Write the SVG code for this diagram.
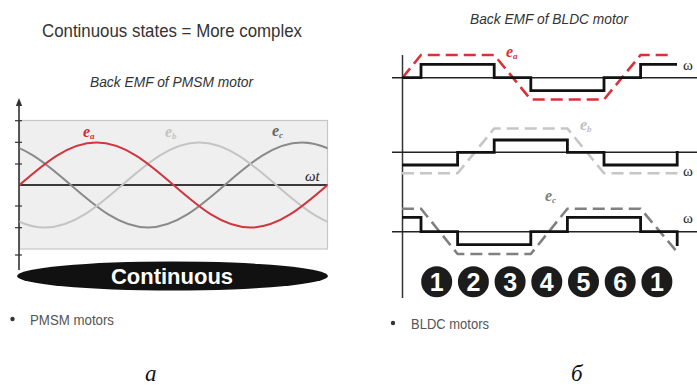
<svg xmlns="http://www.w3.org/2000/svg" width="697" height="385" viewBox="0 0 697 385">
<style>
.sans{font-family:"Liberation Sans",Arial,sans-serif}
.serif{font-family:"Liberation Serif","Times New Roman",serif}
.title{font-size:19px;fill:#333}
.sub{font-size:14px;font-style:italic;fill:#333}
.bul{font-size:15px;fill:#555}
.cap{font-size:23px;font-style:italic;fill:#111}
.lab{font-size:16px;font-style:italic;font-weight:bold}
.om{font-size:15px;fill:#222}
.zero{stroke:#222;stroke-width:1.5;fill:none}
.step{stroke:#111;stroke-width:2.8;fill:none}
.dash{stroke-width:2.6;fill:none;stroke-dasharray:12 6}
.num{font-size:25px;font-weight:bold;fill:#fff;text-anchor:middle}
.circ{fill:#1c1c1c}
</style>
<defs>
<clipPath id="clipRect"><rect x="19.5" y="120.5" width="308" height="128.5"/></clipPath>
</defs>

<!-- Left panel -->
<g id="title"><text class="sans title" x="42" y="37" textLength="260" lengthAdjust="spacingAndGlyphs">Continuous states = More complex</text></g>
<g id="pmsm-subtitle"><text class="sans sub" x="90" y="87" textLength="163" lengthAdjust="spacingAndGlyphs">Back EMF of PMSM motor</text></g>

<g id="pmsm-plot">
<rect x="19.5" y="120.5" width="308" height="128.5" fill="#efefef" stroke="#c6c6c6" stroke-width="1.2"/>
<line x1="19" y1="104" x2="19" y2="270" stroke="#333" stroke-width="1.6"/>
<polygon points="19,98 15.8,106 22.2,106" fill="#333"/>
<g stroke="#333" stroke-width="1.2">
<line x1="15" y1="120.7" x2="22" y2="120.7"/>
<line x1="15" y1="142.3" x2="22" y2="142.3"/>
<line x1="15" y1="164" x2="22" y2="164"/>
<line x1="15" y1="206" x2="22" y2="206"/>
<line x1="15" y1="227.7" x2="22" y2="227.7"/>
<line x1="15" y1="255" x2="22" y2="255"/>
</g>
<line x1="19" y1="185" x2="327.5" y2="185" stroke="#3a3a3a" stroke-width="2"/>
<g clip-path="url(#clipRect)" fill="none" stroke-width="2">
<path stroke="#8a8a8a" d="M-83.17,185 c25.11,-21.77 49.13,-42.5 77,-42.5 c27.87,0 51.89,20.73 77,42.5 c25.11,21.77 49.13,42.5 77,42.5 c27.87,0 51.89,-20.73 77,-42.5 c25.11,-21.77 49.13,-42.5 77,-42.5 c27.87,0 51.89,20.73 77,42.5 c25.11,21.77 49.13,42.5 77,42.5 c27.87,0 51.89,-20.73 77,-42.5"/>
<path stroke="#c4c4c4" d="M-185.83,185 c25.11,-21.77 49.13,-42.5 77,-42.5 c27.87,0 51.89,20.73 77,42.5 c25.11,21.77 49.13,42.5 77,42.5 c27.87,0 51.89,-20.73 77,-42.5 c25.11,-21.77 49.13,-42.5 77,-42.5 c27.87,0 51.89,20.73 77,42.5 c25.11,21.77 49.13,42.5 77,42.5 c27.87,0 51.89,-20.73 77,-42.5"/>
<path stroke="#d0363f" d="M19.5,185 c25.11,-21.77 49.13,-42.5 77,-42.5 c27.87,0 51.89,20.73 77,42.5 c25.11,21.77 49.13,42.5 77,42.5 c27.87,0 51.89,-20.73 77,-42.5"/>
</g>
<text class="serif lab" x="83" y="137" fill="#cc2d3a">e<tspan font-size="9" dy="2">a</tspan></text>
<text class="serif lab" x="165" y="137" fill="#c4c4c4" font-weight="normal">e<tspan font-size="9" dy="2">b</tspan></text>
<text class="serif lab" x="272" y="136" fill="#666">e<tspan font-size="9" dy="2">c</tspan></text>
<text class="serif om" x="305" y="181" fill="#444" font-style="italic">ωt</text>
</g>

<g id="continuous">
<ellipse cx="172.5" cy="276" rx="155.5" ry="14.5" fill="#111"/>
<text class="sans" x="172" y="284" font-size="22" font-weight="bold" fill="#fff" text-anchor="middle">Continuous</text>
</g>

<g id="pmsm-bullet">
<circle cx="12.5" cy="319" r="2.2" fill="#333"/>
<text class="sans bul" x="30" y="324.5" textLength="84" lengthAdjust="spacingAndGlyphs">PMSM motors</text>
</g>

<g id="caption-a"><text class="serif cap" x="145" y="381">a</text></g>

<!-- Right panel -->
<g id="bldc-subtitle"><text class="sans sub" x="470" y="24" textLength="158" lengthAdjust="spacingAndGlyphs">Back EMF of BLDC motor</text></g>

<g id="bldc-axes">
<line x1="402.5" y1="55" x2="402.5" y2="298" stroke="#333" stroke-width="1.5"/>
<line class="zero" x1="392" y1="77.7" x2="697" y2="77.7"/>
<line class="zero" x1="392" y1="152.3" x2="697" y2="152.3"/>
<line class="zero" x1="392" y1="231.7" x2="697" y2="231.7"/>
</g>

<g id="phase-a">
<path class="dash" stroke="#d9303a" d="M402.5,77.7 L421,55 H494.2 L530.8,99.5 H604 L640.6,55 H668"/>
<path class="step" d="M402,77.7 H421 V64.3 H494.2 V77.7 H530.8 V90.7 H604 V77.7 H640.6 V64.3 H677"/>
<text class="serif lab" x="506" y="57" fill="#d9303a" font-weight="normal">e<tspan font-size="9" dy="2">a</tspan></text>
<text class="serif om" x="683" y="70">ω</text>
</g>

<g id="phase-b">
<path class="dash" stroke="#c6c6c6" d="M402,173.3 H457.6 L494.2,128.5 H567.4 L604,173.3 H678"/>
<path class="step" d="M402,165 H457.6 V152.3 H494.2 V140 H567.4 V152.3 H604 V165 H677.2 V151"/>
<text class="serif lab" x="580" y="130" fill="#c0c0c0" font-weight="normal">e<tspan font-size="9" dy="2">b</tspan></text>
<text class="serif om" x="683" y="176">ω</text>
</g>

<g id="phase-c">
<path class="dash" stroke="#808080" d="M402,208.7 H421 L457.6,254 H530.8 L567.4,208.7 H640.6 L677.2,252"/>
<path class="step" d="M402,217.3 H421 V231.7 H457.6 V244.7 H530.8 V231.7 H567.4 V217.3 H640.6 V231.7 H677.2 V246"/>
<text class="serif lab" x="545" y="201" fill="#808080" font-weight="normal">e<tspan font-size="9" dy="2">c</tspan></text>
<text class="serif om" x="683" y="223">ω</text>
</g>

<g id="sectors">
<circle class="circ" cx="436.7" cy="281.7" r="15.5"/><text class="sans num" x="436.7" y="290.6">1</text>
<circle class="circ" cx="473.4" cy="281.7" r="15.5"/><text class="sans num" x="473.4" y="290.6">2</text>
<circle class="circ" cx="510.1" cy="281.7" r="15.5"/><text class="sans num" x="510.1" y="290.6">3</text>
<circle class="circ" cx="546.8" cy="281.7" r="15.5"/><text class="sans num" x="546.8" y="290.6">4</text>
<circle class="circ" cx="583.5" cy="281.7" r="15.5"/><text class="sans num" x="583.5" y="290.6">5</text>
<circle class="circ" cx="620.2" cy="281.7" r="15.5"/><text class="sans num" x="620.2" y="290.6">6</text>
<circle class="circ" cx="656.9" cy="281.7" r="15.5"/><text class="sans num" x="656.9" y="290.6">1</text>
</g>

<g id="bldc-bullet">
<circle cx="393" cy="323" r="2.2" fill="#333"/>
<text class="sans bul" x="411" y="328.5" textLength="78" lengthAdjust="spacingAndGlyphs">BLDC motors</text>
</g>

<g id="caption-b"><text class="serif cap" x="571" y="381">б</text></g>
</svg>
